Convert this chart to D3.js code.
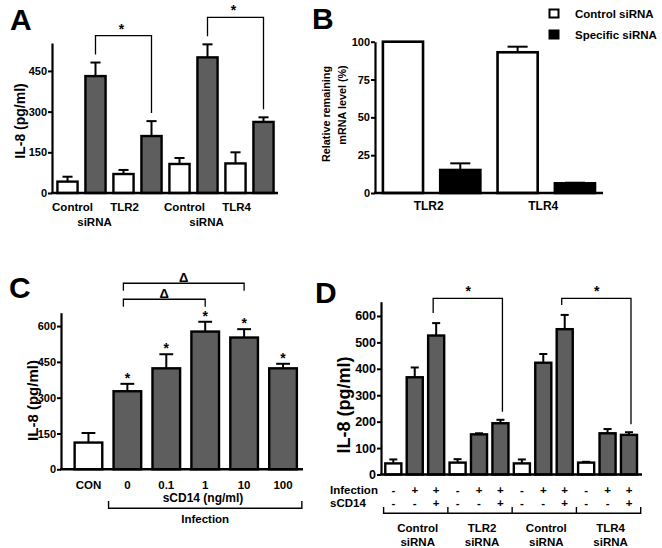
<!DOCTYPE html>
<html><head><meta charset="utf-8">
<script src="https://cdn.jsdelivr.net/npm/d3@7"></script>
<style>
body{margin:0;background:#fff}
svg text{font-family:"Liberation Sans",Arial,Helvetica,sans-serif;font-weight:bold;fill:#000}
</style></head><body>
<svg id="chart" width="662" height="548"></svg>
<script>
// ---------- Panel A ----------
const aCategories = ["Control-","Control+","TLR2-","TLR2+","Control-","Control+","TLR4-","TLR4+"];
const aValues = [42, 431, 70, 210, 107, 500, 109, 262];
const aErrors = [18, 50, 15, 55, 22, 48, 41, 17];
const aInfected = [0, 1, 0, 1, 0, 1, 0, 1];
const aTicks = [0, 150, 300, 450];
const aGroupLabels = ["Control", "TLR2", "Control", "TLR4"];
const aSubLabel = "siRNA";
const aBrackets = [[1, 3], [5, 7]];
const aYLabel = "IL-8 (pg/ml)";

// ---------- Panel B ----------
const bGenes = ["TLR2", "TLR4"];
const bSeries = ["Control siRNA", "Specific siRNA"];
const bControl = [100, 93];
const bControlErr = [0, 3.7];
const bSpecific = [15.2, 6.4];
const bSpecificErr = [4.4, 0.4];
const bTicks = [0, 25, 50, 75, 100];
const bYLabel = ["Relative remaining", "mRNA level (%)"];

// ---------- Panel C ----------
const cCategories = ["CON", "0", "0.1", "1", "10", "100"];
const cValues = [112, 327, 423, 577, 552, 423];
const cErrors = [40, 31, 59, 41, 35, 19];
const cInfected = [0, 1, 1, 1, 1, 1];
const cStars = [0, 1, 1, 1, 1, 1];
const cTicks = [0, 150, 300, 450, 600];
const cDeltaBrackets = [[1, 3], [1, 4]];
const cXTitle = "sCD14 (ng/ml)";
const cBracketLabel = "Infection";
const cYLabel = "IL-8 (pg/ml)";

// ---------- Panel D ----------
const dValues = [42, 368, 526, 45, 152, 194, 42, 423, 550, 45, 156, 150];
const dErrors = [15, 37, 47, 13, 4, 13, 15, 33, 54, 3, 16, 10];
const dInfection = ["-", "+", "+", "-", "+", "+", "-", "+", "+", "-", "+", "+"];
const dSCD14 = ["-", "-", "+", "-", "-", "+", "-", "-", "+", "-", "-", "+"];
const dGroups = [["Control", "siRNA"], ["TLR2", "siRNA"], ["Control", "siRNA"], ["TLR4", "siRNA"]];
const dTicks = [0, 100, 200, 300, 400, 500, 600];
const dBrackets = [[2, 5], [8, 11]];
const dRowLabels = ["Infection", "sCD14"];
const dYLabel = "IL-8 (pg/ml)";

// ---------- drawing ----------
const GRAY = "#5e5e5e";
const svg = d3.select("#chart");
svg.append("rect").attr("width", 662).attr("height", 548).attr("fill", "#fff");

function yAxis(x0, y, ticks, fs) {
  const ax = svg.append("g").attr("transform", `translate(${x0},0)`)
    .call(d3.axisLeft(y).tickValues(ticks).tickSize(4).tickSizeOuter(0).tickPadding(1).tickFormat(d3.format("d")));
  ax.attr("font-family", null).attr("font-size", null);
  ax.select(".domain").attr("stroke", "#000").attr("stroke-width", 2.2);
  ax.selectAll(".tick line").attr("stroke", "#000").attr("stroke-width", 2);
  ax.selectAll(".tick text").attr("font-size", fs).attr("fill", "#000");
}
function xLine(x1, x2, yb) {
  svg.append("line").attr("x1", x1 - 1).attr("x2", x2).attr("y1", yb).attr("y2", yb)
    .attr("stroke", "#000").attr("stroke-width", 2.4);
}
function bars(x, y, vals, errs, fills, sw) {
  const g = svg.append("g");
  const bw = x.bandwidth();
  vals.forEach((v, i) => {
    g.append("rect").attr("x", x(i)).attr("y", y(v)).attr("width", bw).attr("height", y(0) - y(v))
      .attr("fill", fills[i]).attr("stroke", "#000").attr("stroke-width", sw);
    if (errs[i] > 0) {
      const cx = x(i) + bw / 2, cw = bw * 0.5;
      g.append("line").attr("x1", cx).attr("x2", cx).attr("y1", y(v)).attr("y2", y(v + errs[i]))
        .attr("stroke", "#000").attr("stroke-width", 2);
      g.append("line").attr("x1", cx - cw / 2).attr("x2", cx + cw / 2)
        .attr("y1", y(v + errs[i])).attr("y2", y(v + errs[i]))
        .attr("stroke", "#000").attr("stroke-width", 2);
    }
  });
}
function bracket(xl, xr, top, yl, yr, sw) {
  svg.append("path").attr("d", `M${xl},${yl}V${top}H${xr}V${yr}`)
    .attr("fill", "none").attr("stroke", "#000").attr("stroke-width", sw || 1.3);
}
function text(x, y, s, fs, anchor, weight) {
  return svg.append("text").attr("x", x).attr("y", y).attr("font-size", fs)
    .attr("text-anchor", anchor || "middle").attr("font-weight", weight || "bold").text(s);
}
function vtext(x, y, s, fs) {
  return svg.append("text").attr("transform", `translate(${x},${y}) rotate(-90)`)
    .attr("font-size", fs).attr("text-anchor", "middle").text(s);
}

// ===== Panel A =====
{
  const y = d3.scaleLinear().domain([0, 553]).range([193, 43]);
  const x = d3.scaleBand().domain(d3.range(aValues.length)).range([53.5, 277.5]).paddingInner(0.28).paddingOuter(0.14);
  const bw = x.bandwidth(), c = i => x(i) + bw / 2;
  bars(x, y, aValues, aErrors, aInfected.map(d => d ? GRAY : "#fff"), 2.4);
  yAxis(52, y, aTicks, 11);
  xLine(52, 278, 193);
  aGroupLabels.forEach((s, k) => {
    const i = k * 2;
    text(c(i) + (s === "Control" ? 5 : 1), 210.5, s, 11.5);
  });
  [0, 4].forEach(i => text((c(i) + c(i + 2)) / 2 - 1, 226, aSubLabel, 11.5));
  aBrackets.forEach(([l, r]) => {
    const tl = y(aValues[l] + aErrors[l]), tr = y(aValues[r] + aErrors[r]);
    const top = Math.min(tl, tr) - 27;
    bracket(c(l), c(r), top, tl - 8, tr - 8);
    text((c(l) + c(r)) / 2 - 2, top - 2, "*", 14);
  });
  vtext(24.5, 121, aYLabel, 14);
  text(10, 30, "A", 30, "start");
}

// ===== Panel B =====
{
  const y = d3.scaleLinear().domain([0, 100]).range([193, 41.7]);
  const n = bGenes.length * bSeries.length;
  const x = d3.scaleBand().domain(d3.range(n)).range([374.3, 603.6]).paddingInner(0.3).paddingOuter(0.15);
  const vals = [], errs = [], fills = [];
  bGenes.forEach((g, k) => {
    vals.push(bControl[k], bSpecific[k]);
    errs.push(bControlErr[k], bSpecificErr[k]);
    fills.push("#fff", "#000");
  });
  bars(x, y, vals, errs, fills, 2.6);
  yAxis(375, y, bTicks, 11);
  xLine(375, 603, 193);
  const bw = x.bandwidth();
  bGenes.forEach((g, k) => text((x(2 * k) + x(2 * k + 1) + bw) / 2 - 3, 209.5, g, 12));
  vtext(330, 114, bYLabel[0], 10.8);
  vtext(345.5, 105, bYLabel[1], 10.8);
  // legend
  bSeries.forEach((s, k) => {
    svg.append("rect").attr("x", 549.5).attr("y", 9.5 + k * 21).attr("width", 9).attr("height", 8)
      .attr("fill", k ? "#000" : "#fff").attr("stroke", "#000").attr("stroke-width", 2);
    text(575, 18 + k * 21, s, 11.5, "start");
  });
  text(312, 28.5, "B", 30, "start");
}

// ===== Panel C =====
{
  const y = d3.scaleLinear().domain([0, 656]).range([469.3, 312.7]);
  const x = d3.scaleBand().domain(d3.range(cCategories.length)).range([69, 302.5]).paddingInner(0.29).paddingOuter(0.145);
  const bw = x.bandwidth(), c = i => x(i) + bw / 2;
  bars(x, y, cValues, cErrors, cInfected.map(d => d ? GRAY : "#fff"), 2.4);
  yAxis(61, y, cTicks, 11);
  xLine(61, 303, 469.3);
  cCategories.forEach((s, i) => text(c(i), 488.5, s, 11.5));
  cStars.forEach((s, i) => { if (s) text(c(i), y(cValues[i] + cErrors[i]) - 1, "*", 14); });
  text(203, 502, cXTitle, 12);
  // infection bracket
  const bl = x(1) - 5, br = x(cCategories.length - 1) + bw + 5;
  svg.append("path").attr("d", `M${bl},501V508.3H${br}V501`).attr("fill", "none")
    .attr("stroke", "#000").attr("stroke-width", 1.4);
  text((bl + br) / 2, 523, cBracketLabel, 11.5);
  // delta brackets
  let top = y(d3.max(d3.range(cDeltaBrackets[0][0], cDeltaBrackets[0][1] + 1), i => cValues[i] + cErrors[i])) - 22.5;
  cDeltaBrackets.forEach(([l, r], k) => {
    const t = top - k * 16;
    bracket(c(l) - 4, c(r), t, t + 7.4, t + 7.4, 1.3);
    text((c(l) - 4 + c(r)) / 2, t - 1.5, "Δ", 13, "middle", k ? "bold" : "normal");
  });
  vtext(37.5, 400.5, cYLabel, 15);
  text(9, 297.5, "C", 30, "start");
}

// ===== Panel D =====
{
  const y = d3.scaleLinear().domain([0, 654]).range([474.5, 301.7]);
  const x = d3.scaleBand().domain(d3.range(dValues.length)).range([382.6, 639.7]).paddingInner(0.25).paddingOuter(0.125);
  const bw = x.bandwidth(), c = i => x(i) + bw / 2, step = x.step();
  bars(x, y, dValues, dErrors, dInfection.map(d => d === "+" ? GRAY : "#fff"), 2.4);
  yAxis(381, y, dTicks, 12.5);
  xLine(381, 642, 474.5);
  // significance brackets
  const top = y(d3.max(dValues.map((v, i) => v + dErrors[i]))) - 16.5;
  dBrackets.forEach(([l, r]) => {
    bracket(c(l) - 3, c(r) + 2, top, y(dValues[l] + dErrors[l]) - 10, y(dValues[r] + dErrors[r]) - 8);
    text((c(l) + c(r)) / 2, top - 2.5, "*", 14);
  });
  // condition rows
  text(330, 494, dRowLabels[0], 11.5, "start");
  text(330, 507, dRowLabels[1], 11.5, "start");
  dInfection.forEach((s, i) => text(c(i), 494, s, 11.5));
  dSCD14.forEach((s, i) => text(c(i), 507, s, 11.5));
  // group brackets
  const per = dValues.length / dGroups.length;
  const edges = d3.range(dGroups.length + 1).map(k => x(0) + k * per * step - step * 0.125 + 1);
  const p = `M${edges[0]},507V513.3H${edges[edges.length - 1]}V507` +
    edges.slice(1, -1).map(e => `M${e},507V513.3`).join("");
  svg.append("path").attr("d", p).attr("fill", "none").attr("stroke", "#000").attr("stroke-width", 1.4);
  dGroups.forEach((g, k) => {
    const cx = (edges[k] + edges[k + 1]) / 2 + 2;
    text(cx, 531.5, g[0], 11.5);
    text(cx, 546, g[1], 11.5);
  });
  vtext(350, 405, dYLabel, 18);
  text(315, 303, "D", 30, "start");
}
</script>
</body></html>
